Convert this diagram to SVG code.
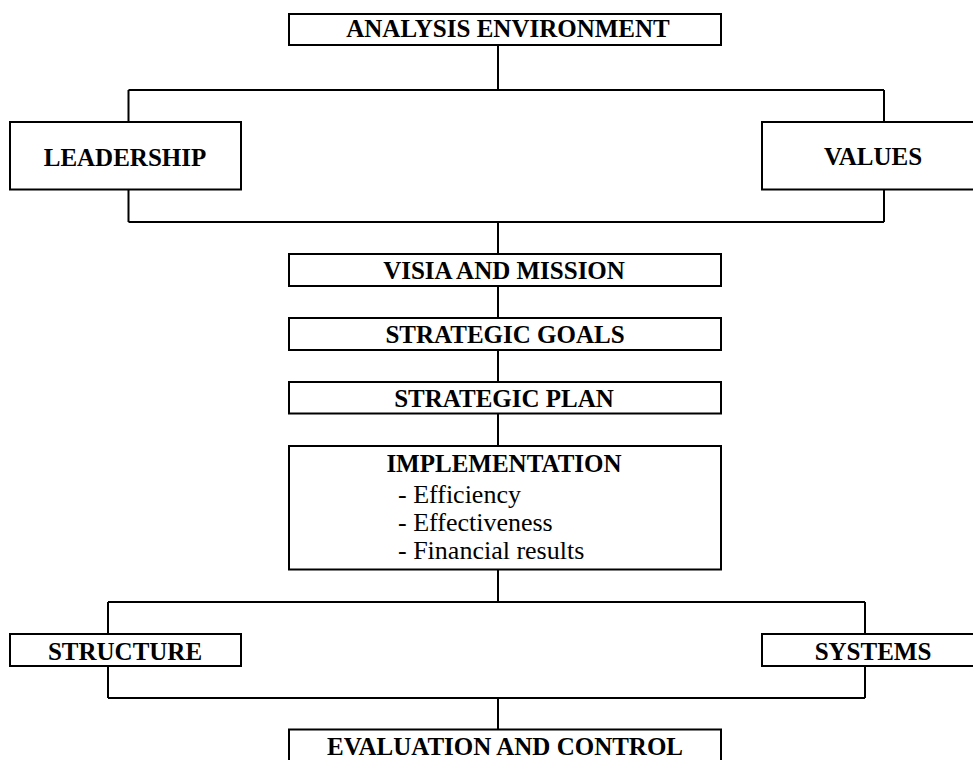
<svg xmlns="http://www.w3.org/2000/svg" width="973" height="760" viewBox="0 0 973 760">
<style>
.box{fill:#fff;stroke:#000;stroke-width:2}
.ln{stroke:#000;stroke-width:2;fill:none}
.b{font-family:"Liberation Serif","Times New Roman",serif;font-weight:bold;font-size:25px;text-anchor:middle;fill:#000}
.r{font-family:"Liberation Serif","Times New Roman",serif;font-size:26px;fill:#000}
</style>
<rect width="973" height="760" fill="#fff"/>
<g id="connectors" class="ln">
<path d="M498,45V90M128.5,90H884M128.5,90V122M884,90V122"/>
<path d="M128.5,189.5V222M884,189.5V222M128.5,222H884M498,222V254"/>
<path d="M498,286V318M498,350V382M498,413.5V446M498,569.5V602"/>
<path d="M108,602H865M108,602V634M865,602V634M108,666V698M865,666V698M108,698H865M498,698V729.5"/>
</g>
<g id="analysis"><rect class="box" x="289" y="14" width="432" height="31"/><text class="b" x="508" y="37">ANALYSIS ENVIRONMENT</text></g>
<g id="leadership"><rect class="box" x="10" y="122" width="231" height="67.5"/><text class="b" x="125" y="166">LEADERSHIP</text></g>
<g id="values"><rect class="box" x="762" y="122" width="224" height="67.5"/><text class="b" x="873" y="165">VALUES</text></g>
<g id="visia"><rect class="box" x="289" y="254" width="432" height="32"/><text class="b" x="504" y="279">VISIA AND MISSION</text></g>
<g id="goals"><rect class="box" x="289" y="318" width="432" height="32"/><text class="b" x="505" y="343">STRATEGIC GOALS</text></g>
<g id="plan"><rect class="box" x="289" y="382" width="432" height="31.5"/><text class="b" x="504" y="406.5">STRATEGIC PLAN</text></g>
<g id="implementation"><rect class="box" x="289" y="446" width="432" height="123.5"/><text class="b" x="504" y="472">IMPLEMENTATION</text>
<text class="r" x="398" y="503">- Efficiency</text><text class="r" x="398" y="531">- Effectiveness</text><text class="r" x="398" y="559">- Financial results</text></g>
<g id="structure"><rect class="box" x="10" y="634" width="231" height="32"/><text class="b" x="125" y="660">STRUCTURE</text></g>
<g id="systems"><rect class="box" x="762" y="634" width="224" height="32"/><text class="b" x="873" y="660">SYSTEMS</text></g>
<g id="evaluation"><rect class="box" x="289" y="729.5" width="432" height="40"/><text class="b" x="505" y="755">EVALUATION AND CONTROL</text></g>
</svg>
